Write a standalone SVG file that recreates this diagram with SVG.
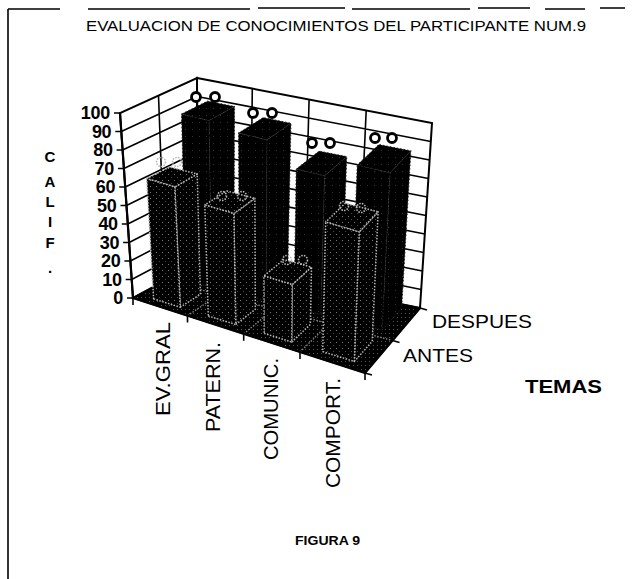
<svg xmlns="http://www.w3.org/2000/svg" width="637" height="579" viewBox="0 0 637 579">
<defs>
<pattern id="antPat" width="6" height="6" patternUnits="userSpaceOnUse"><rect width="6" height="6" fill="#000"/><rect x="0" y="0" width="1" height="1" fill="#7a7a7a"/><rect x="3" y="3" width="1" height="1" fill="#4a4a4a"/></pattern>
<pattern id="dspPat" width="7" height="7" patternUnits="userSpaceOnUse"><rect width="7" height="7" fill="#000"/><rect x="3" y="3" width="1" height="1" fill="#333"/></pattern>
<pattern id="floorPat" width="4" height="4" patternUnits="userSpaceOnUse"><rect width="4" height="4" fill="#000"/><rect x="1" y="1" width="1" height="1" fill="#555"/></pattern>
<style>
.border{fill:none;stroke:#000;stroke-width:1.6}
.wall{fill:#fff;stroke:#000;stroke-width:2}
.grid{fill:none;stroke:#000;stroke-width:1.6}
.floor{fill:url(#floorPat);stroke:#000;stroke-width:1.5}
.fgrid{fill:none;stroke:#8c8c8c;stroke-width:1.3;stroke-dasharray:1.5 1.5}
.dsp{fill:url(#dspPat);stroke:#262626;stroke-width:1;stroke-dasharray:1.5 2}
.ant{fill:url(#antPat);stroke:#b8b8b8;stroke-width:1.5;stroke-dasharray:1.5 1.5;stroke-linejoin:round}
.loopD{fill:#fff;stroke:#000;stroke-width:2.8}
.loopA{fill:none;stroke:#b8b8b8;stroke-width:1.6;stroke-dasharray:1.5 1.2}
.axis{fill:none;stroke:#000;stroke-width:2.2}
.tick{stroke:#000;stroke-width:1.6}
.t{font-family:"Liberation Sans",Arial,sans-serif;fill:#000}
.val{font-size:18px;font-weight:bold;text-anchor:end;letter-spacing:-0.3px}
.cal{font-size:15px;font-weight:bold;text-anchor:middle}
.cat{font-size:21px}
.ser{font-size:19px}
</style>
</defs>

<g id="frame">
<path class="border" d="M8,9 V579"/>
<path class="border" d="M8,9 H60 M88,9 H250 M258,8 H345 M352,9 H470 M478,8 H530 M545,9 H585 M600,8 H625"/>
</g>

<g id="title"><text class="t" x="86" y="31" font-size="15" textLength="500" lengthAdjust="spacingAndGlyphs">EVALUACION DE CONOCIMIENTOS DEL PARTICIPANTE NUM.9</text></g>

<g id="walls">
<polygon class="wall" points="133,298 120,113 197,78 198,263"/>
<polygon class="wall" points="198,263 197,78 432,123 420,308"/>
<g class="grid">
<path d="M131.7,279.5 L197.9,244.5 M130.4,261 L197.8,226 M129.1,242.5 L197.7,207.5 M127.8,224 L197.6,189 M126.5,205.5 L197.5,170.5 M125.2,187 L197.4,152 M123.9,168.5 L197.3,133.5 M122.6,150 L197.2,115 M121.3,131.5 L197.1,96.5 M165.5,280.5 L158.5,95.5"/>
<path d="M197.9,244.5 L421.2,289.5 M197.8,226 L422.4,271 M197.7,207.5 L423.6,252.5 M197.6,189 L424.8,234 M197.5,170.5 L426,215.5 M197.4,152 L427.2,197 M197.3,133.5 L428.4,178.5 M197.2,115 L429.6,160 M197.1,96.5 L430.8,141.5 M250.2,273.6 L252.3,88.6 M303.9,284.5 L309.1,99.5 M357.8,295.4 L366.2,110.4"/>
</g>
</g>

<g id="floor">
<polygon class="floor" points="133,298 198,263 420,308 365,373"/>
<path class="fgrid" d="M187.5,315.6 L250.2,273.6 M243.7,333.8 L303.9,284.5 M300,352 L357.8,295.4 M165.5,280.5 L392.5,340.5"/>
</g>

<g id="bar-despues-evgral">
<polygon class="dsp" points="185.8,280.5 211.8,287 209.1,120.5 181.5,114"/>
<polygon class="dsp" points="211.8,287 233.9,272.9 234.6,106.4 209.1,120.5"/>
<polygon class="dsp" points="181.5,114 209.1,120.5 234.6,106.4 207.6,101.1"/>
<circle class="loopD" cx="196" cy="97" r="4.5"/><circle class="loopD" cx="215" cy="97" r="4.5"/>
</g>
<g id="bar-despues-patern">
<polygon class="dsp" points="239.3,294 266.2,300.8 267,139.8 238.5,133"/>
<polygon class="dsp" points="266.2,300.8 287.5,284.1 291,123.2 267,139.8"/>
<polygon class="dsp" points="238.5,133 267,139.8 291,123.2 263.2,117.6"/>
<circle class="loopD" cx="253" cy="113" r="4.5"/><circle class="loopD" cx="272" cy="113" r="4.5"/>
</g>
<g id="bar-despues-comunic">
<polygon class="dsp" points="294,307.8 320.9,314.6 324.6,175.8 296.2,169.1"/>
<polygon class="dsp" points="320.9,314.6 341.4,295.4 346.8,156.6 324.6,175.8"/>
<polygon class="dsp" points="296.2,169.1 324.6,175.8 346.8,156.6 319.1,151.1"/>
<circle class="loopD" cx="312" cy="143" r="4.5"/><circle class="loopD" cx="330" cy="143" r="4.5"/>
</g>
<g id="bar-despues-comport">
<polygon class="dsp" points="351.2,322.2 382.2,330 390.1,172.8 357.2,164.9"/>
<polygon class="dsp" points="382.2,330 401.7,308 410.9,150.8 390.1,172.8"/>
<polygon class="dsp" points="357.2,164.9 390.1,172.8 410.9,150.8 378.9,144.4"/>
<circle class="loopD" cx="375" cy="138" r="4.5"/><circle class="loopD" cx="392" cy="138" r="4.5"/>
</g>

<g id="bar-antes-evgral">
<polygon class="ant" points="180.2,307.2 200.4,294.3 197.2,174 174.8,186.9"/>
<polygon class="ant" points="146.7,178.6 174.8,186.9 197.2,174 169.7,166.9"/>
<polygon class="ant" points="153.6,298.9 180.2,307.2 174.8,186.9 146.7,178.6"/>
<circle class="loopA" cx="161" cy="162" r="4.5"/><circle class="loopA" cx="177" cy="162" r="4.5"/>
</g>
<g id="bar-antes-patern">
<polygon class="ant" points="235.8,324.5 255.3,309.3 254.9,198.3 233.8,213.5"/>
<polygon class="ant" points="204.8,205 233.8,213.5 254.9,198.3 226.6,190.9"/>
<polygon class="ant" points="208.3,316 235.8,324.5 233.8,213.5 204.8,205"/>
<circle class="loopA" cx="222" cy="196" r="4.5"/><circle class="loopA" cx="242" cy="196" r="4.5"/>
</g>
<g id="bar-antes-comunic">
<polygon class="ant" points="291.7,342 310.4,324.4 311.5,267.1 292.2,284.6"/>
<polygon class="ant" points="263.9,276 292.2,284.6 311.5,267.1 283.8,259.6"/>
<polygon class="ant" points="264.2,333.4 291.7,342 292.2,284.6 263.9,276"/>
<circle class="loopA" cx="287" cy="260" r="4.5"/><circle class="loopA" cx="303" cy="260" r="4.5"/>
</g>
<g id="bar-antes-comport">
<polygon class="ant" points="354.3,361.5 372.2,341.3 378.1,211.8 359.2,232"/>
<polygon class="ant" points="325.7,222.1 359.2,232 378.1,211.8 345.2,203.3"/>
<polygon class="ant" points="322.7,351.6 354.3,361.5 359.2,232 325.7,222.1"/>
<circle class="loopA" cx="344" cy="206" r="4.5"/><circle class="loopA" cx="361" cy="208" r="4.5"/>
</g>

<g id="axes">
<path class="axis" d="M133,298 L120,113"/>
<path class="axis" d="M133,298 L365,373 L420,308"/>
<path class="tick" d="M133,298 h-6 M131.7,279.5 h-6 M130.4,261 h-6 M129.1,242.5 h-6 M127.8,224 h-6 M126.5,205.5 h-6 M125.2,187 h-6 M123.9,168.5 h-6 M122.6,150 h-6 M121.3,131.5 h-6 M120,113 h-6"/>
<path class="tick" d="M133,298 v7 M187.5,315.6 v7 M243.7,333.8 v7 M300,352 v7 M365,373 v7 M365,373 l7,2 M392.5,340.5 l7,2 M420,308 l7,2"/>
</g>

<g id="value-labels" class="t val">
<text x="123" y="304">0</text>
<text x="121.7" y="285.5">10</text>
<text x="120.4" y="267">20</text>
<text x="119.1" y="248.5">30</text>
<text x="117.8" y="230">40</text>
<text x="116.5" y="211.5">50</text>
<text x="115.2" y="193">60</text>
<text x="113.9" y="174.5">70</text>
<text x="112.6" y="156">80</text>
<text x="111.3" y="137.5">90</text>
<text x="110" y="119">100</text>
</g>

<g id="axis-title-y" class="t cal">
<text x="50" y="162">C</text>
<text x="50" y="187">A</text>
<text x="50" y="207">L</text>
<text x="50" y="227">I</text>
<text x="50" y="248">F</text>
<text x="50" y="273">.</text>
</g>

<g id="category-labels" class="t cat">
<text transform="translate(170,416) rotate(-90)" textLength="94" lengthAdjust="spacingAndGlyphs">EV.GRAL</text>
<text transform="translate(220,432) rotate(-90)" textLength="90" lengthAdjust="spacingAndGlyphs">PATERN.</text>
<text transform="translate(278,460) rotate(-90)" textLength="102" lengthAdjust="spacingAndGlyphs">COMUNIC.</text>
<text transform="translate(340,488) rotate(-90)" textLength="110" lengthAdjust="spacingAndGlyphs">COMPORT.</text>
</g>

<g id="series-labels" class="t ser">
<text x="432" y="328" textLength="100" lengthAdjust="spacingAndGlyphs">DESPUES</text>
<text x="403" y="362" textLength="70" lengthAdjust="spacingAndGlyphs">ANTES</text>
</g>
<g id="axis-title-x"><text class="t" x="525" y="393" font-size="19" font-weight="bold" textLength="77" lengthAdjust="spacingAndGlyphs">TEMAS</text></g>
<g id="caption"><text class="t" x="295" y="545" font-size="13" font-weight="bold" textLength="65" lengthAdjust="spacingAndGlyphs">FIGURA 9</text></g>
</svg>
